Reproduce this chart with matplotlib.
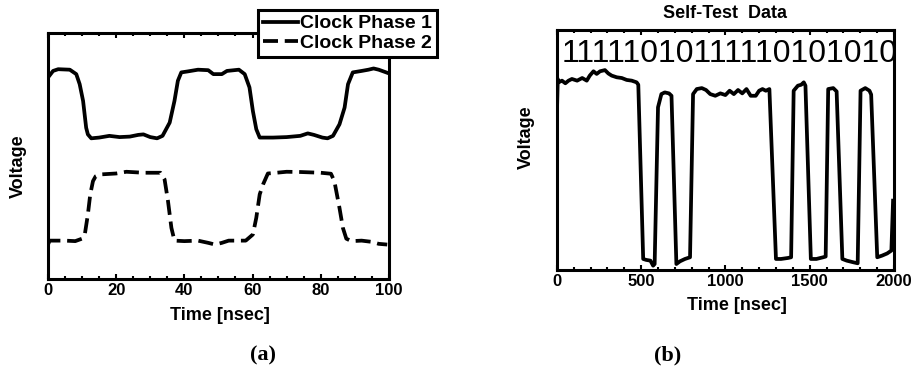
import matplotlib
matplotlib.use("Agg")
import matplotlib.pyplot as plt
import matplotlib.ticker as ticker

plt.rcParams['font.family'] = ['Liberation Sans', 'DejaVu Sans']

# clock waveforms, time in nsec, voltage normalised to the plot height
t_clk1 = [0, 1.5, 3, 6.4, 8.3, 9.3, 10.3, 11.2, 11.7, 12.7, 15, 18, 21, 24, 26.5, 28, 30, 32,
          33.6, 35.7, 37.1, 38.1, 39.1, 41, 44, 47, 48.5, 51, 52.5, 56, 57.7, 59.1, 60.1, 61.1,
          62.1, 66, 70, 74, 76.2, 78, 80.5, 82, 83.6, 85.5, 87, 88, 89.4, 92, 94, 95.5, 97,
          99.2, 100]
v_clk1 = [0.819, 0.846, 0.853, 0.851, 0.833, 0.792, 0.724, 0.615, 0.588, 0.572, 0.575, 0.582,
          0.577, 0.579, 0.586, 0.588, 0.577, 0.572, 0.582, 0.636, 0.724, 0.806, 0.840, 0.844,
          0.851, 0.849, 0.833, 0.833, 0.846, 0.851, 0.833, 0.779, 0.683, 0.609, 0.575, 0.575,
          0.577, 0.582, 0.592, 0.586, 0.575, 0.572, 0.582, 0.629, 0.697, 0.792, 0.840, 0.846,
          0.851, 0.856, 0.851, 0.840, 0.836]

t_clk2 = [0, 0.5, 5, 8, 10, 10.8, 11.7, 12.4, 13.2, 14, 15.1, 20, 23, 28, 33, 34.2, 35.2, 36.2,
          37.1, 40, 44, 47, 49, 51, 53, 58, 60.1, 61.1, 62.1, 63.1, 64.5, 67, 70, 74, 80, 83,
          84, 85.5, 86.5, 87.5, 89, 92, 95, 97, 99.5]
v_clk2 = [0.140, 0.156, 0.156, 0.154, 0.164, 0.181, 0.262, 0.344, 0.398, 0.418, 0.425, 0.429,
          0.436, 0.432, 0.432, 0.405, 0.317, 0.208, 0.156, 0.154, 0.156, 0.147, 0.140, 0.147,
          0.156, 0.156, 0.181, 0.249, 0.344, 0.385, 0.429, 0.432, 0.436, 0.435, 0.432, 0.428,
          0.398, 0.289, 0.208, 0.164, 0.154, 0.156, 0.151, 0.143, 0.140]

# self-test output
t_test = [0, 5, 10, 30, 50, 69, 89, 120, 150, 177, 195, 217, 236, 256, 285, 305, 325, 355, 385,
          414, 444, 473, 483, 512, 530, 555, 571, 580, 600, 620, 640, 665, 680, 709, 730, 760,
          790, 808, 830, 860, 885, 910, 940, 970, 1000, 1025, 1050, 1075, 1100, 1125, 1150,
          1180, 1200, 1220, 1240, 1261, 1300, 1330, 1370, 1390, 1405, 1430, 1450, 1465, 1475,
          1507, 1540, 1580, 1595, 1610, 1640, 1660, 1694, 1720, 1760, 1785, 1802, 1830, 1855,
          1865, 1901, 1930, 1960, 1985, 1995]
v_test = [0.65, 0.796, 0.782, 0.789, 0.778, 0.789, 0.796, 0.789, 0.80, 0.789, 0.81, 0.828,
          0.817, 0.828, 0.833, 0.819, 0.81, 0.803, 0.80, 0.792, 0.789, 0.782, 0.772, 0.046,
          0.042, 0.039, 0.018, 0.025, 0.678, 0.733, 0.74, 0.736, 0.726, 0.025, 0.036, 0.046,
          0.053, 0.733, 0.754, 0.758, 0.75, 0.733, 0.726, 0.736, 0.729, 0.747, 0.733, 0.75,
          0.736, 0.754, 0.726, 0.726, 0.747, 0.754, 0.747, 0.754, 0.046, 0.046, 0.05, 0.053,
          0.747, 0.768, 0.772, 0.782, 0.768, 0.046, 0.046, 0.053, 0.056, 0.754, 0.758, 0.744,
          0.046, 0.039, 0.032, 0.028, 0.747, 0.758, 0.747, 0.731, 0.053, 0.06, 0.069, 0.081,
          0.289]
bits = "11111010111110101010"

fig = plt.figure(figsize=(9.19, 3.66), dpi=100)
ax1 = fig.add_axes([0.0522, 0.2377, 0.371, 0.672])
ax2 = fig.add_axes([0.606, 0.2623, 0.3667, 0.6557])

lw = 2.7
ax1.plot(t_clk1, v_clk1, color='black', lw=lw, label='Clock Phase 1')
ax1.plot(t_clk2, v_clk2, color='black', lw=lw, dashes=(4, 1.8), label='Clock Phase 2')
ax1.set_xlim(0, 100)
ax1.set_ylim(0, 1)
ax1.xaxis.set_major_locator(ticker.MultipleLocator(20))
ax1.xaxis.set_minor_locator(ticker.MultipleLocator(5))

ax2.plot(t_test, v_test, color='black', lw=lw)
ax2.set_xlim(0, 2000)
ax2.set_ylim(0, 1)
ax2.xaxis.set_major_locator(ticker.MultipleLocator(500))
ax2.xaxis.set_minor_locator(ticker.MultipleLocator(100))
ax2.text(0.015, 0.867, bits, transform=ax2.transAxes, fontsize=23, va='baseline',
         ha='left', clip_on=True)
ax2.set_title('Self-Test  Data', fontsize=13, fontweight='bold', pad=9)

for ax in (ax1, ax2):
    for s in ax.spines.values():
        s.set_linewidth(2.2)
    ax.set_yticks([])
    ax.tick_params(axis='x', which='both', direction='in', top=True, bottom=True,
                   width=1.5, labelsize=12)
    ax.tick_params(axis='x', which='major', length=3.8, pad=3)
    ax.tick_params(axis='x', which='minor', length=2.4)
    for lab in ax.get_xticklabels():
        lab.set_fontweight('bold')
    ax.set_xlabel('Time [nsec]', fontsize=13, fontweight='bold')
    ax.set_ylabel('Voltage', fontsize=13, fontweight='bold')

ax1.xaxis.set_label_coords(0.504, -0.114)
ax1.yaxis.set_label_coords(-0.062, 0.46)
ax2.xaxis.set_label_coords(0.534, -0.1125)
ax2.yaxis.set_label_coords(-0.065, 0.554)

leg = ax1.legend(loc='upper right', bbox_to_anchor=(437 / 919, 1 - 10 / 366),
                 bbox_transform=fig.transFigure, borderaxespad=0, fancybox=False,
                 handlelength=1.8, handletextpad=0.1, labelspacing=0.1, borderpad=0.25,
                 prop={'weight': 'bold', 'size': 14}, edgecolor='black', framealpha=1)
leg.get_frame().set_linewidth(2.2)

fig.text(0.286, 0.030, '(a)', family='Liberation Serif', fontweight='bold', fontsize=16,
         ha='center', va='center')
fig.text(0.726, 0.030, '(b)', family='Liberation Serif', fontweight='bold', fontsize=16,
         ha='center', va='center')

fig.savefig('out.png', dpi=100)
